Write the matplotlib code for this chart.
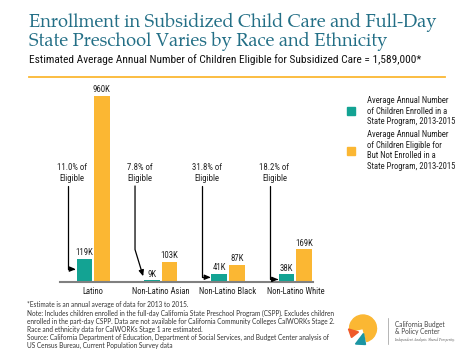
import numpy as np
import matplotlib
matplotlib.use('Agg')
import matplotlib.pyplot as plt
from matplotlib.patches import Rectangle, Wedge, Polygon
from matplotlib.lines import Line2D

# data
groups = ['Latino', 'Non-Latino Asian', 'Non-Latino Black', 'Non-Latino White']
enrolled = [119, 9, 41, 38]          # thousands
not_enrolled = [960, 103, 87, 169]   # thousands
share_labels = ['11.0% of\nEligible', '7.8% of\nEligible', '31.8% of\nEligible', '18.2% of\nEligible']
legend_labels = ['Average Annual Number\nof Children Enrolled in a\nState Program, 2013-2015',
                 'Average Annual Number\nof Children Eligible for\nBut Not Enrolled in a\nState Program, 2013-2015']

title = 'Enrollment in Subsidized Child Care and Full-Day\nState Preschool Varies by Race and Ethnicity'
subtitle = 'Estimated Average Annual Number of Children Eligible for Subsidized Care = 1,589,000*'
footnote = ('*Estimate is an annual average of data for 2013 to 2015.\n'
            'Note: Includes children enrolled in the full-day California State Preschool Program (CSPP). Excludes children\n'
            'enrolled in the part-day CSPP. Data are not available for California Community Colleges CalWORKs Stage 2.\n'
            'Race and ethnicity data for CalWORKs Stage 1 are estimated.\n'
            'Source: California Department of Education, Department of Social Services, and Budget Center analysis of\n'
            'US Census Bureau, Current Population Survey data')

# layout / style
TEAL = '#13a393'
ORANGE = '#fbb733'
TITLE_C = '#236f86'
NARROW = ['Roboto Condensed', 'DejaVu Sans']
SERIF = ['TeX Gyre Pagella', 'Crimson Text', 'DejaVu Serif']
FOOT = ['Lato', 'DejaVu Sans']
arrow_y = [65, 28, 23, 12]
arrow_angle = [0, -73, 0, 0]

W, H = 474, 355
fig = plt.figure(figsize=(W / 100, H / 100), dpi=100)


def fx(x):
    return x / W


def fy(y):
    return 1 - y / H


fig.text(fx(29), fy(13), title, family=SERIF, fontsize=13.1, color=TITLE_C,
         va='top', ha='left', linespacing=1.0)
fig.text(fx(29), fy(60), subtitle, family=NARROW, fontsize=8.2, color='#111111',
         va='center', ha='left')
fig.add_artist(Line2D([fx(29), fx(445)], [fy(77), fy(77)], color=ORANGE, lw=1.3))

ax = fig.add_axes([fx(60), 73.3 / H, 253 / W, (281.7 - 85) / H])
x = np.arange(len(groups))
bw = 0.23
off = 0.13
ax.bar(x - off, enrolled, bw, color=TEAL)
ax.bar(x + off, not_enrolled, bw, color=ORANGE)
ax.set_xlim(-0.49, 3.26)
ax.set_ylim(0, 1015)

for xi, v in zip(x - off, enrolled):
    ax.annotate(f'{v}K', (xi, v), xytext=(0, 1), textcoords='offset points',
                ha='center', va='bottom', family=NARROW, fontsize=6.3, color='#222222')
for xi, v in zip(x + off, not_enrolled):
    ax.annotate(f'{v}K', (xi, v), xytext=(0, 1), textcoords='offset points',
                ha='center', va='bottom', family=NARROW, fontsize=6.3, color='#222222')

for i in range(len(groups)):
    left = x[i] - off - bw / 2
    ax.text(left - 0.067, 560, share_labels[i], ha='center', va='center',
            family=NARROW, fontsize=6.3, color='#222222', linespacing=1.25)
    ax.annotate('', xy=(left - 0.012, arrow_y[i]), xytext=(left - 0.133, 494),
                arrowprops=dict(arrowstyle='-|>,head_length=0.35,head_width=0.15',
                                color='black', lw=0.9, shrinkA=0, shrinkB=0,
                                connectionstyle=f'angle,angleA=90,angleB={arrow_angle[i]},rad=0'))

ax.set_xticks(x)
ax.set_xticklabels(groups, family=NARROW, fontsize=6.2, color='#222222')
ax.tick_params(axis='x', length=0, pad=4)
ax.set_yticks([])
for s in ['top', 'left', 'right']:
    ax.spines[s].set_visible(False)
ax.spines['bottom'].set_color('#808080')
ax.spines['bottom'].set_linewidth(1.5)

# legend
for (cy, col, lab, ty) in [(111, TEAL, legend_labels[0], 111), (151, ORANGE, legend_labels[1], 150.5)]:
    fig.add_artist(Rectangle((fx(347), fy(cy + 4)), 8 / W, 8 / H, color=col))
    fig.text(fx(367), fy(ty), lab, family=NARROW, fontsize=6.2, color='#222222',
             va='center', ha='left', linespacing=1.2)

# footnote
fig.text(fx(27), fy(301.5), footnote, family=FOOT, fontsize=4.7, color='#333333',
         va='top', ha='left', linespacing=1.17)

# logo
logo_ax = fig.add_axes([fx(347), fy(346), 32 / W, 32 / H])
logo_ax.set_xlim(0, 32)
logo_ax.set_ylim(0, 32)
logo_ax.axis('off')
logo_ax.add_patch(Wedge((16, 17.5), 13.5, -75, 192, color=ORANGE))
logo_ax.add_patch(Polygon([(1.5, 17), (11.5, 14), (4.5, 8.5)], color='#ef5a2a'))
logo_ax.add_patch(Polygon([(16.5, 12.5), (8.5, 2), (18.5, 1.5)], color='#1b95a3'))
fig.add_artist(Line2D([fx(388), fx(388)], [fy(318), fy(344)], color='#999999', lw=0.5))
fig.text(fx(395), fy(328), 'California Budget\n& Policy Center', family=FOOT,
         fontsize=4.7, color='#444444', va='center', ha='left', linespacing=1.1)
fig.text(fx(395), fy(339.5), 'Independent Analysis. Shared Prosperity.', family=SERIF,
         fontsize=2.6, style='italic', color='#444444', va='center', ha='left')

fig.savefig('out.png', dpi=100)
